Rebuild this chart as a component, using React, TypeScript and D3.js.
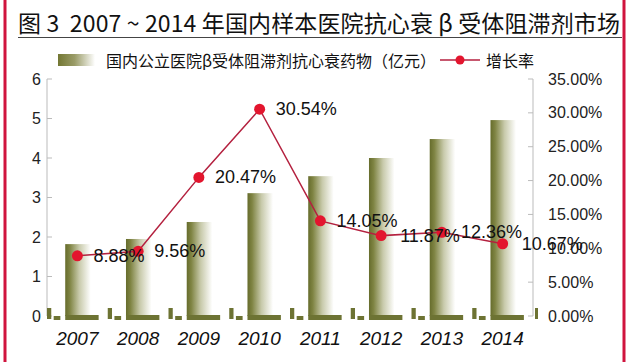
import React from 'react';
import * as d3 from 'd3';

// chart data
const years = ['2007', '2008', '2009', '2010', '2011', '2012', '2013', '2014'];
const sales = [1.82, 1.95, 2.38, 3.11, 3.54, 4.0, 4.48, 4.96];
const growth = [8.88, 9.56, 20.47, 30.54, 14.05, 11.87, 12.36, 10.67];
const leftTicks = [0, 1, 2, 3, 4, 5, 6];
const rightTicks = [0, 5, 10, 15, 20, 25, 30, 35];

const title = '图 3  2007 ~ 2014 年国内样本医院抗心衰 β 受体阻滞剂市场';
const barName = '国内公立医院β受体阻滞剂抗心衰药物（亿元）';
const lineName = '增长率';

const W = 630;
const H = 362;
const margin = { top: 79, right: 97, bottom: 46, left: 47 };
const olive = '#6d7333';
const red = '#e3152e';
const lineRed = '#b4213f';
const cjk = '"Noto Sans CJK SC", "Noto Sans", sans-serif';
const latin = '"Liberation Sans", Arial, sans-serif';

const App: React.FC = () => {
  const x = d3
    .scaleBand<string>()
    .domain(years)
    .range([margin.left, W - margin.right]);
  const yL = d3.scaleLinear().domain([0, 6]).range([H - margin.bottom, margin.top]);
  const yR = d3.scaleLinear().domain([0, 35]).range([H - margin.bottom, margin.top]);
  const bw = x.bandwidth();
  const base = yL(0);
  const cx = (y: string) => (x(y) as number) + bw / 2;

  const line = d3
    .line<number>()
    .x((_, i) => cx(years[i]))
    .y((d) => yR(d));

  const xr = W - margin.right;

  return (
    <div style={{ position: 'fixed', left: 0, top: 0 }}>
      <svg width={W} height={H} style={{ display: 'block', background: '#fff' }}>
        <defs>
          <linearGradient id="barGrad" x1="0" y1="0" x2="1" y2="0">
            <stop offset="0%" stopColor="#666c2c" />
            <stop offset="18%" stopColor="#7f8443" />
            <stop offset="55%" stopColor="#c8caab" />
            <stop offset="100%" stopColor="#ffffff" />
          </linearGradient>
          <linearGradient id="legGrad" x1="0" y1="0" x2="1" y2="0">
            <stop offset="0%" stopColor="#737733" />
            <stop offset="45%" stopColor="#9a9c68" />
            <stop offset="100%" stopColor="#ffffff" />
          </linearGradient>
        </defs>

        {/* side borders */}
        <line x1={5} x2={5} y1={0} y2={H} stroke="#d0143e" strokeWidth={3} />
        <line x1={624} x2={624} y1={0} y2={H} stroke="#d0143e" strokeWidth={3} />

        {/* title */}
        <text
          x={18}
          y={22}
          fontFamily={cjk}
          fontSize={23}
          fill="#111"
          dominantBaseline="central"
          textLength={602}
          lengthAdjust="spacing"
          style={{ whiteSpace: 'pre' }}
        >
          {title}
        </text>
        <line x1={18} x2={622} y1={37.5} y2={37.5} stroke="#444" strokeWidth={1} />

        {/* legend */}
        <rect x={58} y={54} width={37} height={12} fill="url(#legGrad)" />
        <text x={106} y={60} fontFamily={cjk} fontSize={16} fill="#111" dominantBaseline="central">
          {barName}
        </text>
        <line x1={440} x2={480} y1={60} y2={60} stroke={lineRed} strokeWidth={1.5} />
        <circle cx={460} cy={60} r={4.5} fill={red} />
        <text x={486} y={60} fontFamily={cjk} fontSize={16} fill="#111" dominantBaseline="central">
          {lineName}
        </text>

        {/* axes */}
        <line x1={margin.left} x2={margin.left} y1={yL(6)} y2={base} stroke="#bbb" />
        {leftTicks.map((t) => (
          <g key={'l' + t}>
            <line x1={margin.left} x2={margin.left + 5} y1={yL(t)} y2={yL(t)} stroke="#bbb" />
            <text
              x={margin.left - 6}
              y={yL(t)}
              textAnchor="end"
              dominantBaseline="central"
              fontFamily={latin}
              fontSize={16}
              fill="#222"
            >
              {t}
            </text>
          </g>
        ))}
        <line x1={xr} x2={xr} y1={yR(35)} y2={base} stroke="#bbb" />
        {rightTicks.map((t) => (
          <g key={'r' + t}>
            <line x1={xr - 5} x2={xr} y1={yR(t)} y2={yR(t)} stroke="#bbb" />
            <text
              x={xr + 15}
              y={yR(t)}
              dominantBaseline="central"
              fontFamily={latin}
              fontSize={16}
              fill="#222"
            >
              {t.toFixed(2) + '%'}
            </text>
          </g>
        ))}

        {/* bars */}
        {years.map((yr, i) => (
          <rect
            key={'b' + yr}
            x={(x(yr) as number) + bw * 0.3}
            y={yL(sales[i])}
            width={bw * 0.42}
            height={base - yL(sales[i])}
            fill="url(#barGrad)"
          />
        ))}

        {/* olive baseline pieces */}
        {years.map((yr) => {
          const x0 = x(yr) as number;
          return (
            <g key={'p' + yr} fill={olive}>
              <rect x={x0} y={base - 8} width={bw * 0.07} height={11} />
              <rect x={x0 + bw * 0.11} y={base} width={bw * 0.11} height={4} />
              <rect x={x0 + bw * 0.3} y={base - 1} width={bw * 0.55} height={5} />
            </g>
          );
        })}
        <rect x={xr + 2} y={base - 8} width={3} height={11} fill={olive} />

        {/* growth line */}
        <path d={line(growth) as string} fill="none" stroke={lineRed} strokeWidth={1.5} />
        {growth.map((g, i) => (
          <circle key={'c' + i} cx={cx(years[i])} cy={yR(g)} r={5.5} fill={red} />
        ))}
        {growth.map((g, i) => (
          <text
            key={'t' + i}
            x={cx(years[i]) + (i < 5 ? 16 : 19)}
            y={yR(g)}
            dominantBaseline="central"
            fontFamily={latin}
            fontSize={18}
            fill="#111"
          >
            {g.toFixed(2) + '%'}
          </text>
        ))}

        {/* category labels */}
        {years.map((yr) => (
          <text
            key={'x' + yr}
            x={cx(yr)}
            y={338}
            textAnchor="middle"
            dominantBaseline="central"
            fontFamily={latin}
            fontStyle="italic"
            fontSize={19}
            fill="#111"
          >
            {yr}
          </text>
        ))}
      </svg>
    </div>
  );
};

export default App;
